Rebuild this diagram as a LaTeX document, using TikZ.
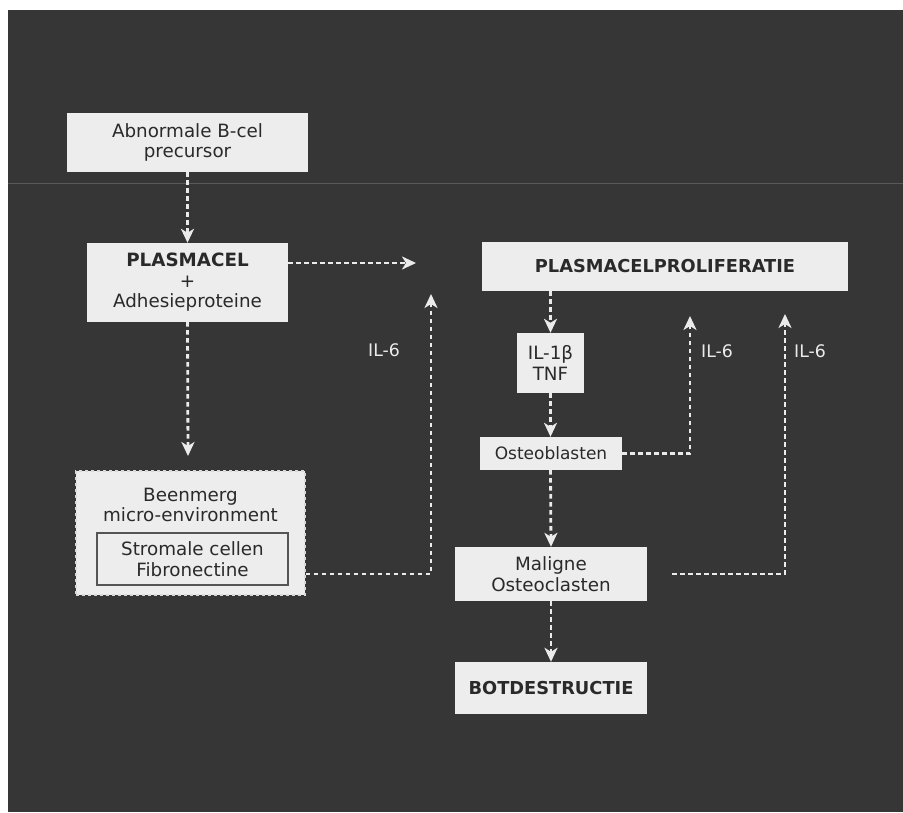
\documentclass[tikz,border=0pt]{standalone}
\usepackage{fontspec}
\setmainfont{DejaVu Sans}
\usetikzlibrary{arrows.meta}
\definecolor{bg}{HTML}{363636}
\definecolor{boxfill}{HTML}{EDEDED}
\definecolor{txt}{HTML}{2A2A2A}
\tikzset{
  box/.style={fill=boxfill, draw=none, text=txt, align=center, inner sep=0pt, font=\fontsize{18.3}{20.5}\selectfont},
  boldbox/.style={box, font=\bfseries\fontsize{17.8}{20}\selectfont},
  arr/.style={draw=white!92!black, line width=2.8pt, dash pattern=on 4.5pt off 3.5pt,
     -{Stealth[length=14pt,width=13pt,inset=4pt]}},
  lbl/.style={text=white!92!black, font=\fontsize{17.3}{20}\selectfont, inner sep=0pt}
}
\begin{document}
\begin{tikzpicture}[x=1pt,y=-1pt]
\useasboundingbox (0,0) rectangle (903,812);
\fill[white] (0,0) rectangle (903,812);
\fill[bg] (8,10) rectangle (903,812);
\draw[white!18!bg, line width=0.8pt] (8,183) -- (903,183);

% nodes
\node[box, minimum width=241pt, minimum height=59pt] (abn) at (187.5,142.5) {Abnormale B-cel\\precursor};
\node[box, minimum width=201pt, minimum height=79pt] (pla) at (187.5,282.5) {{\bfseries PLASMACEL}\\+\\Adhesieproteine};
\node[box, minimum width=229pt, minimum height=124pt, draw=white!85!black, dashed, line width=1.2pt] (been) at (190.5,533) {};
\node[box, fill=none] (beent) at (190.5,505) {Beenmerg\\micro-environment};
\node[box, minimum width=191pt, minimum height=52pt, draw=txt!80, line width=1.3pt] (strom) at (192.5,559) {Stromale cellen\\Fibronectine};
\node[boldbox, minimum width=366pt, minimum height=49pt] (prol) at (665,266.5) {PLASMACELPROLIFERATIE};
\node[box, minimum width=67pt, minimum height=60pt] (il) at (550.5,363) {IL-1β\\TNF};
\node[box, minimum width=142pt, minimum height=33pt, font=\fontsize{17}{19}\selectfont] (ost) at (551,453.5) {Osteoblasten};
\node[box, minimum width=192pt, minimum height=54pt] (mal) at (551,574) {Maligne\\Osteoclasten};
\node[boldbox, minimum width=192pt, minimum height=52pt] (bot) at (551,688) {BOTDESTRUCTIE};

% free ends
\coordinate (e1) at (416,263);
\coordinate (e2) at (431,294);
\coordinate (e3) at (690,316);
\coordinate (e4) at (785,314);
\coordinate (e5) at (188,456);

% connectors
\draw[arr] (abn.south) -- (pla.north);
\draw[arr] (pla.east |- e1) -- (e1);
\draw[arr] (pla.south) -- (e5);
\draw[arr] ([yshift=-41pt]been.east) -| (e2);
\draw[arr] (il.north |- prol.south) -- (il.north);
\draw[arr] (il.south) -- (ost.north -| il);
\draw[arr] (ost.east) -| (e3);
\draw[arr] (ost.south -| il) -- (mal.north);
\draw[arr] ([xshift=25pt]mal.east) -| (e4);
\draw[arr] (mal.south) -- (bot.north);

% labels
\node[lbl] (l1) at (384,350) {IL-6};
\node[lbl] (l2) at (717,351) {IL-6};
\node[lbl] (l3) at (810,351) {IL-6};
\end{tikzpicture}
\end{document}
